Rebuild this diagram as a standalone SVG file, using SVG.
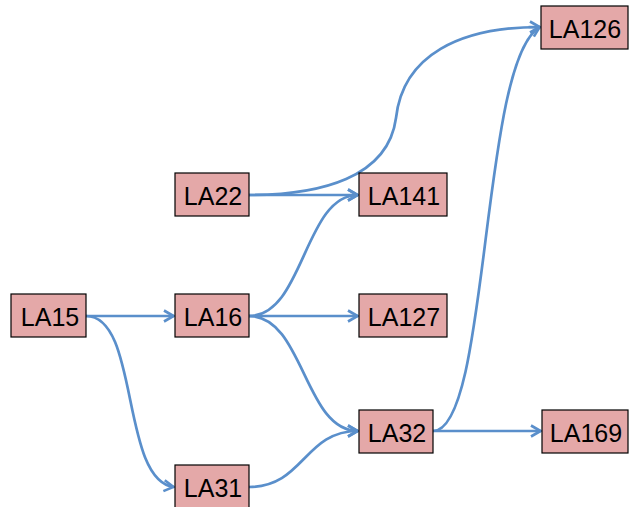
<svg xmlns="http://www.w3.org/2000/svg" width="629" height="507" viewBox="0 0 629 507">
<style>
.box{fill:#e4a8a8;stroke:#000;stroke-width:1.2}
.lbl{font-family:"Liberation Sans",Arial,sans-serif;font-size:25px;fill:#000;text-anchor:middle}
.edge{fill:none;stroke:#5a8fcb;stroke-width:2.7;marker-end:url(#arr)}
</style>
<defs>
<marker id="arr" viewBox="0 0 14 14" refX="13" refY="7" markerWidth="14" markerHeight="14" markerUnits="userSpaceOnUse" orient="auto">
<polyline points="3,1.5 12.5,7 3,12.5" fill="none" stroke="#5a8fcb" stroke-width="2.6" stroke-linejoin="miter"/>
</marker>
</defs>
<rect width="629" height="507" fill="#fff"/>
<g id="connectors">
<path class="edge" d="M86,316 L174,316"/>
<path class="edge" d="M86,316 C140,316 120,480 174,487"/>
<path class="edge" d="M249,195 L358,195"/>
<path class="edge" d="M249,195 C320,195 388,178 396,118 C403,55 460,27 540,27"/>
<path class="edge" d="M249,316 C304,316 304,195 358,195"/>
<path class="edge" d="M249,316 L358,316"/>
<path class="edge" d="M249,316 C304,316 304,431 358,431"/>
<path class="edge" d="M249,487 C304,487 304,431 358,431"/>
<path class="edge" d="M433,431 C490,431 480,60 540,27"/>
<path class="edge" d="M433,431 L541,431"/>
</g>
<g id="LA15"><rect class="box" x="11" y="294" width="75" height="43"/><text class="lbl" x="50" y="326">LA15</text></g>
<g id="LA16"><rect class="box" x="175" y="294" width="74" height="43"/><text class="lbl" x="213" y="326">LA16</text></g>
<g id="LA22"><rect class="box" x="175" y="173" width="74" height="43"/><text class="lbl" x="213" y="205">LA22</text></g>
<g id="LA31"><rect class="box" x="175" y="465" width="74" height="43"/><text class="lbl" x="213" y="497">LA31</text></g>
<g id="LA141"><rect class="box" x="359" y="173" width="88" height="43"/><text class="lbl" x="404" y="205">LA141</text></g>
<g id="LA127"><rect class="box" x="359" y="294" width="88" height="43"/><text class="lbl" x="404" y="326">LA127</text></g>
<g id="LA32"><rect class="box" x="359" y="410" width="74" height="43"/><text class="lbl" x="397" y="442">LA32</text></g>
<g id="LA169"><rect class="box" x="542" y="410" width="86" height="43"/><text class="lbl" x="586" y="442">LA169</text></g>
<g id="LA126"><rect class="box" x="541" y="6" width="87" height="43"/><text class="lbl" x="585" y="38">LA126</text></g>
</svg>
